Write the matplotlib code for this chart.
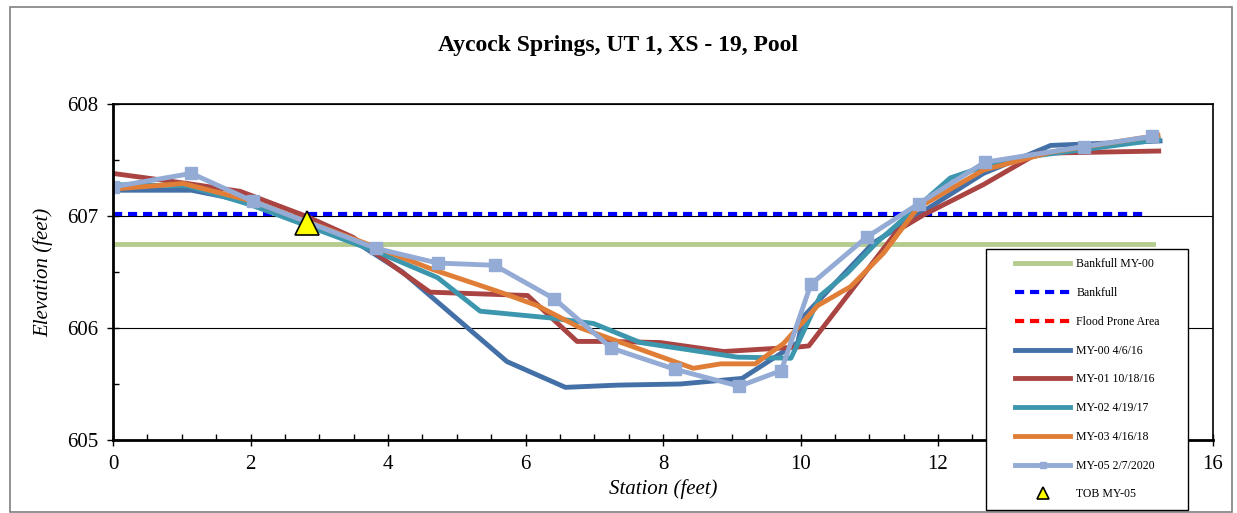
import matplotlib.pyplot as plt
from matplotlib.patches import Rectangle
from matplotlib.lines import Line2D
from matplotlib.legend_handler import HandlerLine2D
from matplotlib.ticker import MultipleLocator

# estacoes e cotas
x_my00 = [0, 1.14, 2.04, 2.9, 3.6, 4.21, 5.73, 6.58, 7.34, 8.25, 9.15, 9.96, 10.04, 11.06, 12.66, 13.64, 15.23]
y_my00 = [607.23, 607.23, 607.12, 606.92, 606.74, 606.5, 605.70, 605.47, 605.49, 605.5, 605.55, 605.87, 606.1, 606.76, 607.38, 607.63, 607.67]

x_my01 = [0, 1.08, 1.85, 2.8, 3.49, 4.61, 6.03, 6.75, 7.23, 7.96, 8.88, 9.96, 10.12, 11.41, 11.79, 12.66, 13.45, 15.21]
y_my01 = [607.38, 607.29, 607.22, 607.0, 606.81, 606.32, 606.29, 605.88, 605.88, 605.87, 605.79, 605.83, 605.84, 606.87, 607.01, 607.28, 607.56, 607.58]

x_my02 = [0, 1.08, 2.0, 3.84, 4.72, 5.34, 6.36, 6.99, 7.67, 9.08, 9.86, 10.29, 10.68, 11.12, 12.18, 12.66, 13.45, 15.21]
y_my02 = [607.28, 607.27, 607.1, 606.68, 606.45, 606.15, 606.09, 606.04, 605.87, 605.74, 605.73, 606.29, 606.49, 606.77, 607.34, 607.44, 607.54, 607.68]

x_my03 = [0, 1.02, 2.04, 3.83, 4.66, 5.63, 6.17, 6.8, 8.44, 8.84, 9.34, 9.75, 10.25, 10.73, 11.21, 11.7, 12.66, 13.64, 15.2]
y_my03 = [607.24, 607.29, 607.13, 606.72, 606.52, 606.32, 606.2, 606.0, 605.64, 605.68, 605.68, 605.86, 606.2, 606.37, 606.67, 607.07, 607.41, 607.57, 607.72]

x_my05 = [0, 1.14, 2.04, 3.83, 4.72, 5.55, 6.42, 7.25, 8.18, 9.11, 9.72, 10.15, 10.96, 11.72, 12.68, 14.12, 15.11]
y_my05 = [607.26, 607.38, 607.13, 606.71, 606.58, 606.56, 606.26, 605.82, 605.63, 605.48, 605.62, 606.39, 606.81, 607.11, 607.48, 607.62, 607.71]

x_bkf = [0, 15.13]
y_bkf00 = [606.75, 606.75]
x_bkf2 = [0, 15.05]
y_bkf = [607.02, 607.02]

x_tob = [2.82]
y_tob = [606.94]

plt.rcParams['font.family'] = ['Liberation Serif', 'DejaVu Serif']

fig = plt.figure(figsize=(12.37, 5.13), dpi=100)
fig.patches.append(Rectangle((0.008, 0.002), 0.988, 0.984, transform=fig.transFigure,
                             fill=False, edgecolor='#808080', lw=1.2))
ax = fig.add_axes([0.0914, 0.1423, 0.8892, 0.655])

ax.plot(x_bkf, y_bkf00, color='#B5CC8E', lw=3.5, label='Bankfull MY-00')
ax.plot(x_bkf2, y_bkf, color='#0000FF', lw=3, ls=(0, (2.2, 1.4)), label='Bankfull')
ax.plot([], [], color='#FF0000', lw=3, ls=(0, (2.2, 1.4)), label='Flood Prone Area')
ax.plot(x_my00, y_my00, color='#4470A8', lw=3.5, label='MY-00 4/6/16')
ax.plot(x_my01, y_my01, color='#A94442', lw=3.5, label='MY-01 10/18/16')
ax.plot(x_my02, y_my02, color='#3C97AE', lw=3.5, label='MY-02 4/19/17')
ax.plot(x_my03, y_my03, color='#E07E38', lw=3.5, label='MY-03 4/16/18')
ax.plot(x_my05, y_my05, color='#94ABD5', lw=3.5, marker='s', ms=9, label='MY-05 2/7/2020')
ax.plot(x_tob, y_tob, ls='none', marker='^', ms=17, mfc='#FFFF00', mec='black', mew=1.2,
        label='TOB MY-05', zorder=5)

ax.set_xlim(0, 16)
ax.set_ylim(605, 608)
ax.xaxis.set_major_locator(MultipleLocator(2))
ax.xaxis.set_minor_locator(MultipleLocator(0.5))
ax.yaxis.set_major_locator(MultipleLocator(1))
ax.yaxis.set_minor_locator(MultipleLocator(0.5))
ax.tick_params(which='major', direction='inout', length=9, width=1, labelsize=15, pad=6)
ax.tick_params(which='minor', direction='in', length=4, width=1)
ax.grid(axis='y', which='major', color='black', lw=0.8)
for s in ax.spines.values():
    s.set_linewidth(1.2)
ax.spines['left'].set_linewidth(2)
ax.spines['bottom'].set_linewidth(2)

# o rotulo 14 fica escondido atras da legenda
fig.canvas.draw()
for t in ax.get_xticklabels():
    if t.get_text() == '14':
        t.set_visible(False)

ax.set_xlabel('Station (feet)', fontsize=15, style='italic', labelpad=4)
ax.set_ylabel('Elevation (feet)', fontsize=15, style='italic', labelpad=10)
fig.text(0.5, 0.912, 'Aycock Springs, UT 1, XS - 19, Pool', ha='center', va='center',
         fontsize=17, fontweight='bold')

handles, labels = ax.get_legend_handles_labels()
leg = fig.legend(handles, labels, loc='lower left', bbox_to_anchor=(0.797, 0.006, 0.163, 0.507),
                 mode='expand', fontsize=8.5, frameon=True, fancybox=False, edgecolor='black',
                 handlelength=6.3, handletextpad=0.55, labelspacing=1.42, borderpad=0.8,
                 borderaxespad=0, markerscale=0.55,
                 handler_map={Line2D: HandlerLine2D(xpad=1.7)})
leg.get_frame().set_linewidth(1)
leg.get_frame().set_alpha(1)

fig.savefig('out.png', dpi=100)
